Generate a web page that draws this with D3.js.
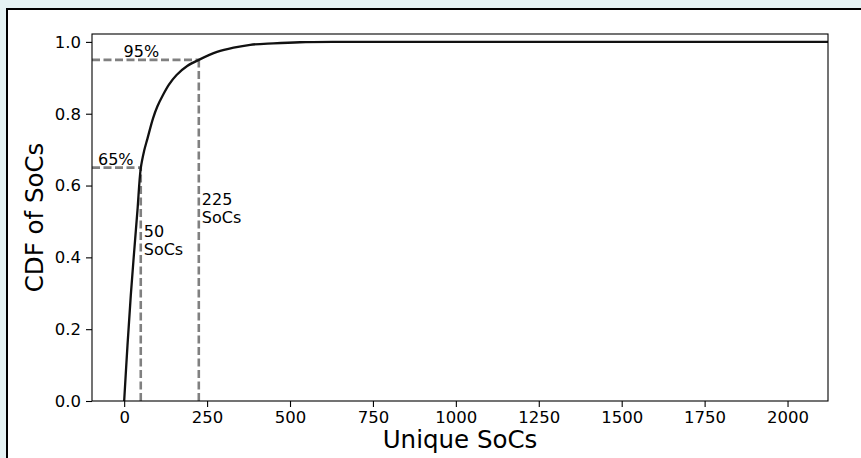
<!DOCTYPE html>
<html>
<head>
<meta charset="utf-8">
<script src="https://cdn.jsdelivr.net/npm/d3@7"></script>
<style>
  html, body { margin: 0; padding: 0; background: #e5f3f4; }
  svg { display: block; font-family: "DejaVu Sans", sans-serif; }
</style>
</head>
<body>
<svg id="chart" width="861" height="458"></svg>
<script>
// CDF curve
var socCounts = [0, 10, 20, 30, 40, 50, 60, 70, 87, 100, 117, 135, 158, 190, 225, 280, 330, 380, 450, 530, 650, 800, 1200, 1600, 2122]
var cdfValues = [0, 0.155, 0.295, 0.415, 0.53, 0.648, 0.696, 0.73, 0.787, 0.82, 0.852, 0.881, 0.908, 0.933, 0.95, 0.972, 0.984, 0.992, 0.996, 0.999, 1.0, 1.0, 1.0, 1.0, 1.0]

// marker lines: (count, cdf)
var markCounts = [50, 225]
var markCdfs = [0.65, 0.95]
var markPct = ["65%", "95%"]

var xTicks = [0, 250, 500, 750, 1000, 1250, 1500, 1750, 2000]
var yTicks = [0.0, 0.2, 0.4, 0.6, 0.8, 1.0]

var svg = d3.select("svg#chart"),
    width = +svg.attr("width"),
    height = +svg.attr("height")

// white panel with black border
svg.append("rect")
    .attr("x", 7).attr("y", 9)
    .attr("width", width + 10).attr("height", height + 10)
    .attr("fill", "#fff").attr("stroke", "#000").attr("stroke-width", 2)

var margin = {left: 92, top: 34, right: 861 - 828, bottom: 458 - 401}
var plotW = width - margin.left - margin.right,
    plotH = height - margin.top - margin.bottom

var x = d3.scaleLinear().domain([-97, 2122]).range([0, plotW])
var y = d3.scaleLinear().domain([0, 1.022]).range([plotH, 0])

var g = svg.append("g").attr("transform", "translate(" + margin.left + "," + margin.top + ")")

g.append("defs").append("clipPath").attr("id", "clip")
    .append("rect").attr("width", plotW).attr("height", plotH)

// axes
var xAxis = g.append("g").attr("transform", "translate(0," + plotH + ")")
    .call(d3.axisBottom(x).tickValues(xTicks).tickSize(6).tickPadding(4).tickFormat(d3.format("d")))
var yAxis = g.append("g")
    .call(d3.axisLeft(y).tickValues(yTicks).tickSize(6).tickPadding(5).tickFormat(d3.format(".1f")))

;[xAxis, yAxis].forEach(function(a) {
    a.attr("font-size", null).attr("font-family", null)
    a.select(".domain").remove()
    a.selectAll(".tick line").attr("stroke", "#000").attr("stroke-width", 1.1)
    a.selectAll(".tick text").attr("fill", "#000").style("font-size", "16.5px")
})

// dashed guide lines
var guides = g.append("g").attr("clip-path", "url(#clip)")
    .attr("stroke", "#808080").attr("stroke-width", 2.6).attr("stroke-dasharray", "8,3.5").attr("fill", "none")
markCounts.forEach(function(c, i) {
    guides.append("line")
        .attr("x1", 0).attr("x2", x(c))
        .attr("y1", y(markCdfs[i])).attr("y2", y(markCdfs[i]))
    guides.append("line")
        .attr("x1", x(c)).attr("x2", x(c))
        .attr("y1", plotH).attr("y2", y(markCdfs[i]))
})

// curve
var line = d3.line()
    .x(function(d, i) { return x(socCounts[i]) })
    .y(function(d) { return y(d) })
    .curve(d3.curveCatmullRom.alpha(0.5))

g.append("path")
    .datum(cdfValues)
    .attr("clip-path", "url(#clip)")
    .attr("fill", "none")
    .attr("stroke", "#111")
    .attr("stroke-width", 2.3)
    .attr("d", line)

// frame
g.append("rect")
    .attr("width", plotW).attr("height", plotH)
    .attr("fill", "none").attr("stroke", "#000").attr("stroke-width", 1.1)

// annotations
var ann = g.append("g").style("font-size", "16px").attr("fill", "#000")
// percent labels sit just above the horizontal guides
ann.append("text").attr("x", x(markCounts[1]) / 2 - 4).attr("y", y(markCdfs[1]) - 3)
    .attr("text-anchor", "middle").text(markPct[1])
ann.append("text").attr("x", 6).attr("y", y(markCdfs[0]) - 3).text(markPct[0])

// count labels next to the vertical guides
var countLbl = [{c: markCounts[0], yv: 0.457}, {c: markCounts[1], yv: 0.546}]
countLbl.forEach(function(d) {
    var t = ann.append("text").attr("x", x(d.c) + 3).attr("y", y(d.yv))
    t.append("tspan").attr("x", x(d.c) + 3).text(d.c)
    t.append("tspan").attr("x", x(d.c) + 3).attr("dy", 18).text("SoCs")
})

// axis titles
g.append("text")
    .attr("x", plotW / 2).attr("y", plotH + 47)
    .attr("text-anchor", "middle")
    .style("font-size", "24.5px")
    .text("Unique SoCs")

g.append("text")
    .attr("transform", "translate(" + (43 - margin.left) + "," + (plotH / 2) + ") rotate(-90)")
    .attr("text-anchor", "middle")
    .style("font-size", "24.5px")
    .text("CDF of SoCs")
</script>
</body>
</html>
